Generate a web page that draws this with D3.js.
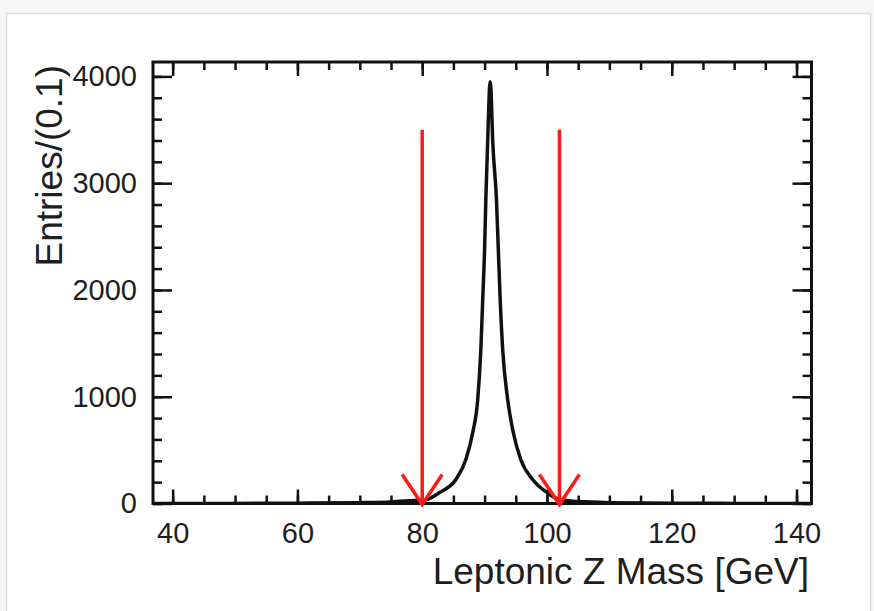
<!DOCTYPE html>
<html>
<head>
<meta charset="utf-8">
<script src="https://cdn.jsdelivr.net/npm/d3@7"></script>
<style>
  html, body { margin: 0; padding: 0; background: #f6f6f6; }
  svg { display: block; }
  text { font-family: "Liberation Sans", Arial, Helvetica, sans-serif; fill: #1e1e1e; }
</style>
</head>
<body>
<svg id="chart"></svg>
<script>
// values (bin width 0.1 GeV)
const mass = [37, 50, 60, 70, 75, 78, 80.6, 82.8, 85.4, 87.0, 88.1, 88.9, 89.4, 89.7, 90.0, 90.2, 90.5, 90.8, 90.9,
              91.0, 91.3, 91.9, 92.2, 92.5, 92.9, 93.7, 94.6, 95.8, 97.7, 100.0, 102.0, 105, 110, 120, 130, 142];
const entries = [0, 1, 3, 8, 15, 25, 37, 103, 225, 412, 665, 974, 1443, 1911, 2379, 2848, 3400, 3900, 3950,
                 3900, 3400, 2848, 2379, 1911, 1443, 974, 665, 412, 225, 103, 37, 18, 8, 3, 1, 0];
const cuts = [80, 102];
const arrowTop = 3500;
const xTicks = [40, 60, 80, 100, 120, 140];
const yTicks = [0, 1000, 2000, 3000, 4000];
const xMinor = d3.range(40, 141, 5);
const yMinor = d3.range(0, 4001, 200);

const W = 874, H = 611;
const svg = d3.select("#chart")
    .attr("width", W)
    .attr("height", H);

// card
svg.append("rect")
    .attr("x", 6.5).attr("y", 13.5)
    .attr("width", 864).attr("height", 640)
    .attr("fill", "#fff")
    .attr("stroke", "#dedede")
    .attr("stroke-width", 1.5);

const pLeft = 153, pRight = 811.5, pTop = 62, pBottom = 503.5;

const x = d3.scaleLinear().domain([36.85, 142.4]).range([pLeft, pRight]);
const y = d3.scaleLinear().domain([0, 4135]).range([pBottom, pTop]);

const data = mass.map((m, i) => ({ m: m, v: entries[i] }));

// ticks, ROOT style (inside the frame, on all four sides)
function axisStyle(g) {
    g.select(".domain").remove();
    g.selectAll(".tick line").attr("stroke", "#111").attr("stroke-width", 2.5);
    g.selectAll(".tick text").attr("font-size", 29).attr("fill", "#1e1e1e");
}

svg.append("g").attr("transform", `translate(0,${pBottom})`)
    .call(d3.axisBottom(x).tickValues(xMinor).tickSize(-8).tickFormat(""))
    .call(axisStyle);
svg.append("g").attr("transform", `translate(0,${pBottom})`)
    .call(d3.axisBottom(x).tickValues(xTicks).tickSize(-14).tickPadding(19).tickFormat(d3.format("d")))
    .call(axisStyle);

svg.append("g").attr("transform", `translate(0,${pTop})`)
    .call(d3.axisTop(x).tickValues(xMinor).tickSize(-8).tickFormat(""))
    .call(axisStyle);
svg.append("g").attr("transform", `translate(0,${pTop})`)
    .call(d3.axisTop(x).tickValues(xTicks).tickSize(-14).tickFormat(""))
    .call(axisStyle);

svg.append("g").attr("transform", `translate(${pLeft},0)`)
    .call(d3.axisLeft(y).tickValues(yMinor).tickSize(-9).tickFormat(""))
    .call(axisStyle);
svg.append("g").attr("transform", `translate(${pLeft},0)`)
    .call(d3.axisLeft(y).tickValues(yTicks).tickSize(-19).tickPadding(16).tickFormat(d3.format("d")))
    .call(axisStyle);

svg.append("g").attr("transform", `translate(${pRight},0)`)
    .call(d3.axisRight(y).tickValues(yMinor).tickSize(-9).tickFormat(""))
    .call(axisStyle);
svg.append("g").attr("transform", `translate(${pRight},0)`)
    .call(d3.axisRight(y).tickValues(yTicks).tickSize(-19).tickFormat(""))
    .call(axisStyle);

// histogram curve
svg.append("clipPath").attr("id", "plotclip")
    .append("rect")
    .attr("x", pLeft).attr("y", pTop)
    .attr("width", pRight - pLeft).attr("height", pBottom - pTop);

const line = d3.line()
    .x(d => x(d.m))
    .y(d => y(d.v))
    .curve(d3.curveMonotoneX);

svg.append("path")
    .datum(data)
    .attr("clip-path", "url(#plotclip)")
    .attr("d", line)
    .attr("fill", "none")
    .attr("stroke", "#111")
    .attr("stroke-width", 3.5)
    .attr("stroke-linejoin", "round");

// frame
svg.append("rect")
    .attr("x", pLeft).attr("y", pTop)
    .attr("width", pRight - pLeft).attr("height", pBottom - pTop)
    .attr("fill", "none")
    .attr("stroke", "#111")
    .attr("stroke-width", 3);

// cut arrows
const arrows = svg.selectAll("g.cut")
    .data(cuts)
    .join("g")
    .attr("class", "cut")
    .attr("stroke", "#ff1a1a")
    .attr("stroke-width", 3.5)
    .attr("fill", "none");

arrows.append("line")
    .attr("x1", d => x(d)).attr("x2", d => x(d))
    .attr("y1", y(arrowTop)).attr("y2", y(0) + 1);

arrows.append("path")
    .attr("d", d => {
        const cx = x(d), cy = y(0) + 1;
        return `M${cx - 20},${cy - 30}L${cx},${cy}L${cx + 20},${cy - 30}`;
    });

// axis titles
svg.append("text")
    .attr("x", 809)
    .attr("y", 584)
    .attr("text-anchor", "end")
    .attr("font-size", 37)
    .text("Leptonic Z Mass [GeV]");

svg.append("text")
    .attr("transform", "translate(62,65) rotate(-90)")
    .attr("text-anchor", "end")
    .attr("font-size", 37)
    .text("Entries/(0.1)");
</script>
</body>
</html>
